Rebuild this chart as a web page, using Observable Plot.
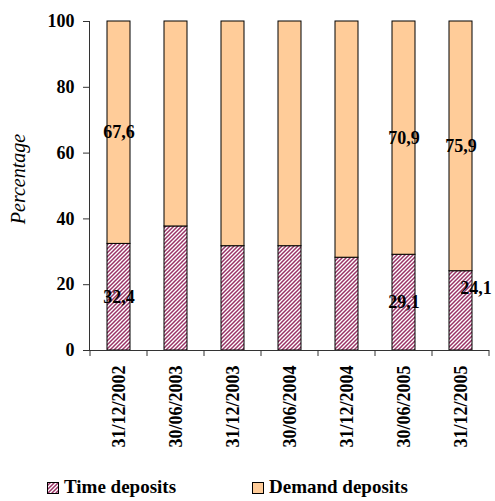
<!DOCTYPE html>
<html><head><meta charset="utf-8">
<script src="https://cdn.jsdelivr.net/npm/d3@7"></script>
<script src="https://cdn.jsdelivr.net/npm/@observablehq/plot@0.6"></script>
<style>
html,body{margin:0;padding:0;background:#fff;}
#chart{width:495px;height:501px;}
svg{display:block;}
#chart svg text{font-family:'Liberation Serif','Times New Roman',serif;}
</style></head><body><div id="chart"></div>
<script>
const dates = ["31/12/2002","30/06/2003","31/12/2003","30/06/2004","31/12/2004","30/06/2005","31/12/2005"];
const timeDeposits   = [32.4, 37.7, 31.7, 31.7, 28.2, 29.1, 24.1];
const demandDeposits = [67.6, 62.3, 68.3, 68.3, 71.8, 70.9, 75.9];
const seriesNames = ["Time deposits", "Demand deposits"];
const seriesFills = ["url(#hatch)", "#FFCC99"];
const yTicks = [0, 20, 40, 60, 80, 100];
const labelledDates = ["31/12/2002", "30/06/2005", "31/12/2005"];
const movedLabel = {date: "31/12/2005", series: "Time deposits"};

const rows = [];
dates.forEach((d, i) => {
  rows.push({date: d, series: seriesNames[0], value: timeDeposits[i]});
  rows.push({date: d, series: seriesNames[1], value: demandDeposits[i]});
});
const fmt = v => v.toFixed(1).replace(".", ",");
const isMoved = d => d.date === movedLabel.date && d.series === movedLabel.series;
const FONT = "Liberation Serif";
const FS = 18;

function boundaryTicks(index, scales, values, dimensions) {
  const x = scales.x;
  const gap = x.step() - x.bandwidth();
  const y0 = scales.y(0);
  const xs = dates.map(d => x(d) - gap / 2);
  xs.push(xs[xs.length - 1] + x.step());
  const g = d3.create("svg:g").attr("stroke", "#333").attr("stroke-width", 1);
  for (const xv of xs) g.append("line").attr("x1", xv).attr("x2", xv).attr("y1", y0).attr("y2", y0 + 6);
  return g.node();
}

const chart = Plot.plot({
  width: 495,
  height: 470,
  marginLeft: 89,
  marginRight: 6,
  marginTop: 21,
  marginBottom: 120,
  style: {fontFamily: FONT, fontSize: FS + "px", fontWeight: "bold", background: "white", color: "black"},
  x: {domain: dates, paddingInner: 0.6, paddingOuter: 0.3, label: null},
  y: {domain: [0, 100], label: null},
  color: {domain: seriesNames, range: seriesFills},
  marks: [
    Plot.barY(rows, {x: "date", y: "value", z: "series", fill: "series", stroke: "black", strokeWidth: 1}),
    Plot.text(rows, Plot.stackY({x: "date", y: "value", z: "series",
      text: d => labelledDates.includes(d.date) && !isMoved(d) ? fmt(d.value) : null,
      fill: "black", fontSize: FS, fontWeight: "bold", fontFamily: FONT})),
    Plot.text(rows, Plot.stackY({x: "date", y: "value", z: "series",
      text: d => isMoved(d) ? fmt(d.value) : null, dx: 15, dy: -23,
      fill: "black", fontSize: FS, fontWeight: "bold", fontFamily: FONT})),
    Plot.frame({anchor: "left", stroke: "#333"}),
    Plot.ruleY([0], {stroke: "#333"}),
    boundaryTicks,
    Plot.axisY({ticks: yTicks, tickSize: 6, tickPadding: 9, label: null, stroke: "#333", fontSize: FS, fontWeight: "bold", fontFamily: FONT, fill: "black"}),
    Plot.axisX({tickRotate: -90, tickSize: 0, tickPadding: 15, label: null, fontSize: FS, fontWeight: "bold", fontFamily: FONT, fill: "black"}),
    Plot.text(["Percentage"], {frameAnchor: "left", textAnchor: "middle", dx: -71, dy: -7, rotate: -90, fontStyle: "italic", fontWeight: "normal", fontFamily: FONT, fontSize: 20, fill: "black"})
  ]
});

d3.select(chart).insert("defs", ":first-child").html(
  `<pattern id="hatch" width="4" height="4" patternUnits="userSpaceOnUse">
     <rect width="4" height="4" fill="white"/>
     <path d="M-1,1 l2,-2 M0,4 l4,-4 M3,5 l2,-2" stroke="#993366" stroke-width="1.5"/>
   </pattern>`);
document.getElementById("chart").appendChild(chart);

// Legend
const legend = d3.create("svg").attr("width", 495).attr("height", 31)
  .style("font-family", FONT).style("font-size", "19px").style("font-weight", "bold");
legend.append("defs").html(
  `<pattern id="hatchL" width="4" height="4" patternUnits="userSpaceOnUse">
     <rect width="4" height="4" fill="white"/>
     <path d="M-1,1 l2,-2 M0,4 l4,-4 M3,5 l2,-2" stroke="#993366" stroke-width="1.5"/>
   </pattern>`);
const legendFills = ["url(#hatchL)", seriesFills[1]];
const legendX = [47, 252];
seriesNames.forEach((name, i) => {
  const g = legend.append("g").attr("transform", `translate(${legendX[i]},0)`);
  g.append("rect").attr("x", 0.5).attr("y", 12.5).attr("width", 11).attr("height", 11)
    .attr("fill", legendFills[i]).attr("stroke", "black").attr("stroke-width", 1);
  g.append("text").attr("x", 17).attr("y", 23).text(name);
});
document.getElementById("chart").appendChild(legend.node());
</script></body></html>
